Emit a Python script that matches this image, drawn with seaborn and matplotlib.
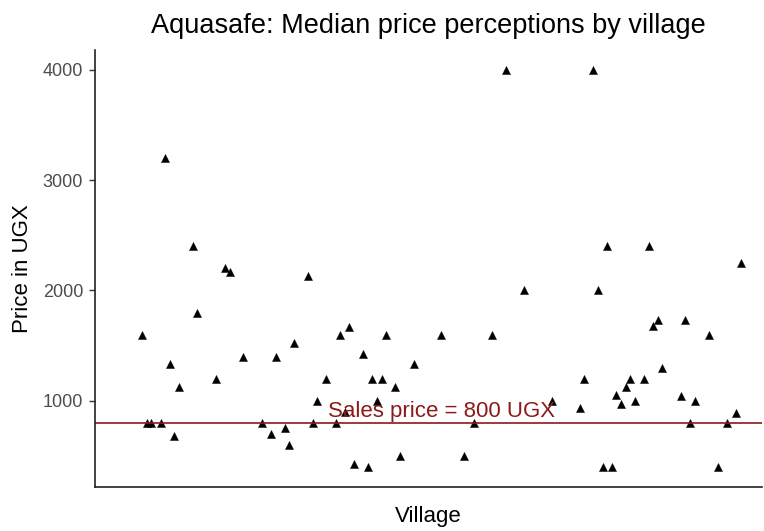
import pandas as pd
import numpy as np
import seaborn as sns
import matplotlib.pyplot as plt

# village position on the discrete x axis (villages without a median are skipped)
village = [0, 1, 2, 4, 5, 6, 7, 8, 11, 12, 16, 18, 19, 22, 26, 28, 29, 31, 32, 33,
           36, 37, 38, 40, 42, 43, 44, 45, 46, 48, 49, 50, 51, 52, 53, 55, 56, 59,
           65, 70, 72, 76, 79, 83, 89, 95, 96, 98, 99, 100, 101, 102, 103, 104, 105,
           106, 107, 109, 110, 111, 112, 113, 117, 118, 119, 120, 123, 125, 127, 129, 130]

# median perceived price per village (UGX)
price = [1600, 800, 800, 800, 3200, 1330, 680, 1130, 2400, 1800, 1200, 2200, 2170, 1400,
         800, 700, 1400, 750, 600, 1525, 2130, 800, 1000, 1200, 800, 1600, 900, 1665,
         425, 1420, 400, 1200, 1000, 1200, 1600, 1130, 500, 1335, 1600, 500, 800, 1600,
         4000, 2000, 1000, 935, 1200, 4000, 2000, 400, 2400, 400, 1050, 967, 1130, 1200,
         1000, 1200, 2400, 1677, 1737, 1300, 1040, 1737, 800, 1000, 1600, 400, 800, 890, 2250]

sales_price = 800
yticks = [1000, 2000, 3000, 4000]

df = pd.DataFrame({'Village': village, 'Price': price})

sns.set_style('ticks')
plt.rcParams['font.family'] = ['Liberation Sans', 'DejaVu Sans']

fig = plt.figure(figsize=(7.64, 5.31), dpi=100)
ax = fig.add_axes([0.1243, 0.083, 0.873, 0.823])

sns.scatterplot(x='Village', y='Price', data=df, marker='^', color='black',
                s=34, edgecolor='black', linewidth=0.3, ax=ax)

# sales price reference line
ax.axhline(sales_price, color='#8B1A1A', linewidth=1.2)
ax.text(65, 900, 'Sales price = 800 UGX', color='#8B1A1A', fontsize=16,
        ha='center', va='center')

ax.set_xlim(-10.24, 134.6)
ax.set_ylim(220, 4180)
ax.set_xticks([])
ax.set_yticks(yticks)
ax.tick_params(axis='y', labelsize=13, length=4.5, width=1, pad=4,
               colors='#333333', labelcolor='#4D4D4D')
ax.set_xlabel('Village', fontsize=16, labelpad=14, color='black')
ax.set_ylabel('Price in UGX', fontsize=16, labelpad=7, color='black')
ax.set_title('Aquasafe: Median price perceptions by village', fontsize=19.5, pad=12,
             color='black')
sns.despine(ax=ax)
for side in ['left', 'bottom']:
    ax.spines[side].set_linewidth(1.2)
    ax.spines[side].set_color('#222222')

plt.savefig('out.png', dpi=100)
